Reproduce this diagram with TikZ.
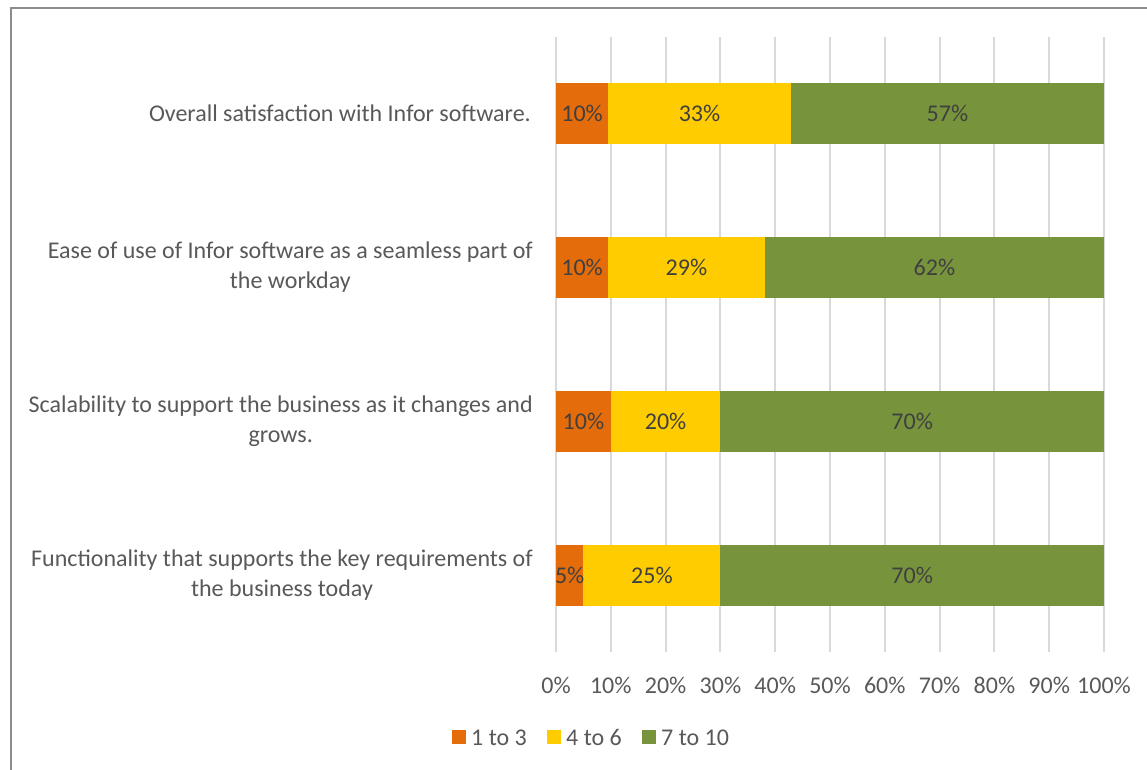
\documentclass[tikz,border=0pt]{standalone}
\usepackage{fontspec}
\setmainfont{Carlito}
\definecolor{oran}{HTML}{E46C0A}
\definecolor{yell}{HTML}{FFCC00}
\definecolor{gren}{HTML}{77933C}
\definecolor{txt}{HTML}{595959}
\definecolor{btxt}{HTML}{404040}
\definecolor{grid}{HTML}{D9D9D9}
\definecolor{frame}{HTML}{8C8C8C}
\begin{document}
\begin{tikzpicture}[x=1pt,y=-1pt,
  cat/.style={anchor=east,align=center,text=txt,font=\fontsize{24}{30}\selectfont,inner sep=0pt},
  tick/.style={text=txt,font=\fontsize{24}{28}\selectfont,inner sep=0pt},
  blab/.style={text=btxt,font=\fontsize{24}{28}\selectfont,inner sep=0pt},
  gridline/.style={draw=grid,line width=2pt},
  leg/.style={text=txt,font=\fontsize{24}{28}\selectfont,inner sep=0pt,anchor=base west}]
\useasboundingbox (0,0) rectangle (1147,770);
\fill[white] (0,0) rectangle (1147,770);
\draw[frame,line width=2pt] (11,771) -- (11,8) -- (1148,8);
% grid and ticks
\foreach \i/\lab in {0/0,1/10,2/20,3/30,4/40,5/50,6/60,7/70,8/80,9/90,10/100} {
  \pgfmathsetmacro{\xx}{556+54.8*\i}
  \draw[gridline] (\xx,37) -- (\xx,652);
  \node[tick] (t\i) at (\xx,685) {\lab\%};
}
% bars
\foreach \yc/\a/\b/\la/\lb/\lc/\nm in {113.5/9.52/42.86/10/33/57/b1, 267.5/9.52/38.10/10/29/62/b2, 421.5/10/30/10/20/70/b3, 575.5/5/30/5/25/70/b4} {
  \pgfmathsetmacro{\xa}{556+5.48*\a}
  \pgfmathsetmacro{\xb}{556+5.48*\b}
  \fill[oran] (556,\yc-30.5) rectangle (\xa,\yc+30.5);
  \fill[yell] (\xa,\yc-30.5) rectangle (\xb,\yc+30.5);
  \fill[gren] (\xb,\yc-30.5) rectangle (1104,\yc+30.5);
  \node[blab] (\nm o) at ({(556+\xa)/2},\yc) {\la\%};
  \node[blab] (\nm y) at ({(\xa+\xb)/2},\yc) {\lb\%};
  \node[blab] (\nm g) at ({(\xb+1104)/2},\yc) {\lc\%};
}
\node[cat] (c1) at (531,113) {Overall satisfaction with Infor software.};
\node[cat] (c2) at (533,267) {Ease of use of Infor software as a seamless part of\\the workday};
\node[cat] (c3) at (533,421) {Scalability to support the business as it changes and\\grows.};
\node[cat] (c4) at (533,575) {Functionality that supports the key requirements of\\the business today};
% legend
\fill[oran] (452,730) rectangle (466,744);
\node[leg] (l1) at (471,745) {1 to 3};
\fill[yell] (547,730) rectangle (561,744);
\node[leg] (l2) at (566,745) {4 to 6};
\fill[gren] (642,730) rectangle (656,744);
\node[leg] (l3) at (661,745) {7 to 10};
\end{tikzpicture}
\end{document}
